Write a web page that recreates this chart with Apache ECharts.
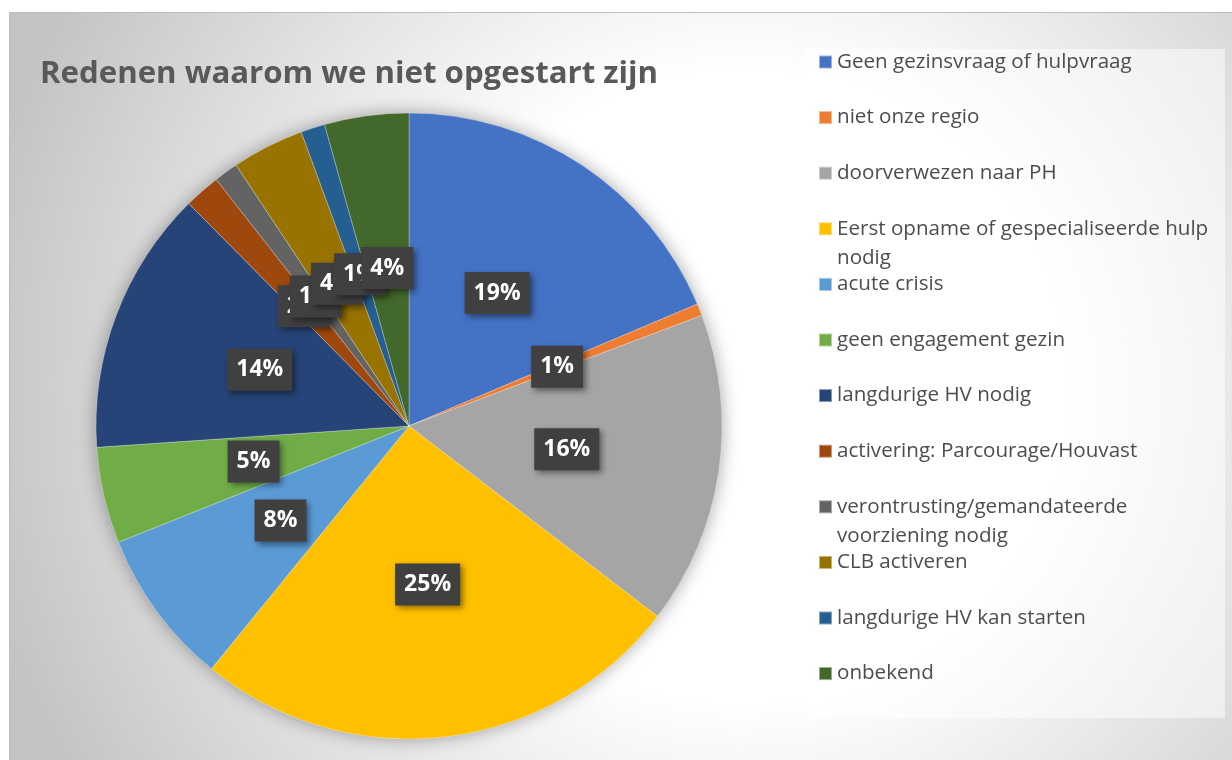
<!DOCTYPE html>
<html>
<head>
<meta charset="utf-8">
<script src="https://cdn.jsdelivr.net/npm/echarts@6/dist/echarts.min.js"></script>
<style>
    html, body { margin: 0; padding: 0; background: #fff; }
    #chrt_redenen {
        position: absolute; left: 9px; top: 12px;
        width: 1223px; height: 748px;
        border-top: 1px solid #bdbdbd; border-left: 1px solid #bdbdbd;
        box-sizing: border-box;
    }
</style>
</head>
<body>
<div id="chrt_redenen"></div>
<script>
// categories (a '\n' marks where the legend wraps)
const reasons = [
    'Geen gezinsvraag of hulpvraag',
    'niet onze regio',
    'doorverwezen naar PH',
    'Eerst opname of gespecialiseerde hulp\nnodig',
    'acute crisis',
    'geen engagement gezin',
    'langdurige HV nodig',
    'activering: Parcourage/Houvast',
    'verontrusting/gemandateerde\nvoorziening nodig',
    'CLB activeren',
    'langdurige HV kan starten',
    'onbekend'
]
// aantallen, gelezen uit de hoeken van de taart
const counts = [30, 1, 26, 41, 13, 8, 22, 3, 2, 6, 2, 7]
const colors = ['#4472c4', '#ed7d31', '#a5a5a5', '#ffc000', '#5b9bd5', '#70ad47',
    '#264478', '#9e480e', '#636363', '#997300', '#255e91', '#43682b']

const FONT = '"Open Sans", sans-serif'
const LINE_H = 29      // legend line height
const LEGEND_Y0 = 49   // center of first legend marker
const LEGEND_STEP = 55.6

const chart = echarts.init(document.getElementById('chrt_redenen'))

// one legend per item, so that every item sits on the same fixed step
const legends = reasons.map((name, i) => {
    const lines = name.split('\n').length
    const cy = LEGEND_Y0 + i * LEGEND_STEP
    return {
        data: [name],
        orient: 'vertical',
        left: 808,
        top: lines > 1 ? cy - LINE_H * 1.5 : cy - LINE_H / 2,
        padding: 0,
        icon: 'rect',
        itemWidth: 13, itemHeight: 13,
        selectedMode: false,
        // leading empty line keeps the marker level with the first line
        formatter: n => (n.indexOf('\n') >= 0 ? '\n' + n : n),
        textStyle: { fontFamily: FONT, fontSize: 20.6, color: '#4d4d4d', lineHeight: LINE_H }
    }
})

const option = {
    backgroundColor: {
        type: 'radial', x: 0.6, y: 0.5, r: 1.05,
        colorStops: [
            { offset: 0, color: '#ffffff' },
            { offset: 0.4, color: '#ffffff' },
            { offset: 1, color: '#c3c3c3' }
        ]
    },
    animation: false,
    title: {
        text: 'Redenen waarom we niet opgestart zijn',
        left: 25, top: 41,
        textStyle: { fontFamily: FONT, fontSize: 31.2, fontWeight: 'bold', color: '#595959' }
    },
    legend: legends,
    graphic: [{
        type: 'rect', z: 0, silent: true,
        shape: { x: 794, y: 36, width: 421, height: 669 },
        style: { fill: 'rgba(255,255,255,0.5)' }
    }],
    series: [
        {
            // backing disc, only for the soft shadow round the pie
            type: 'pie', silent: true, z: 1,
            center: [399, 413], radius: 313,
            data: [{ value: 1, name: '' }],
            label: { show: false },
            itemStyle: { color: '#cfcfcf', shadowBlur: 18, shadowColor: 'rgba(0,0,0,0.35)' }
        },
        {
            type: 'pie', z: 2,
            center: [399, 413], radius: 313,
            startAngle: 90, clockwise: true,
            percentPrecision: 0,
            avoidLabelOverlap: false,
            labelLayout: { hideOverlap: false },
            data: reasons.map((name, i) => ({ name: name, value: counts[i] })),
            color: colors,
            itemStyle: { borderColor: 'rgba(255,255,255,0.45)', borderWidth: 0.6 },
            emphasis: { disabled: true },
            label: {
                show: true,
                position: 'inside',
                formatter: '{d}%',
                fontFamily: FONT, fontSize: 23, fontWeight: 'bold', color: '#fff',
                lineHeight: 24,
                backgroundColor: '#404040',
                padding: [10, 9, 8, 9],
                shadowBlur: 6, shadowOffsetX: 3, shadowOffsetY: 3,
                shadowColor: 'rgba(0,0,0,0.45)'
            },
            labelLine: { show: false }
        }
    ]
}

chart.setOption(option)
</script>
</body>
</html>
